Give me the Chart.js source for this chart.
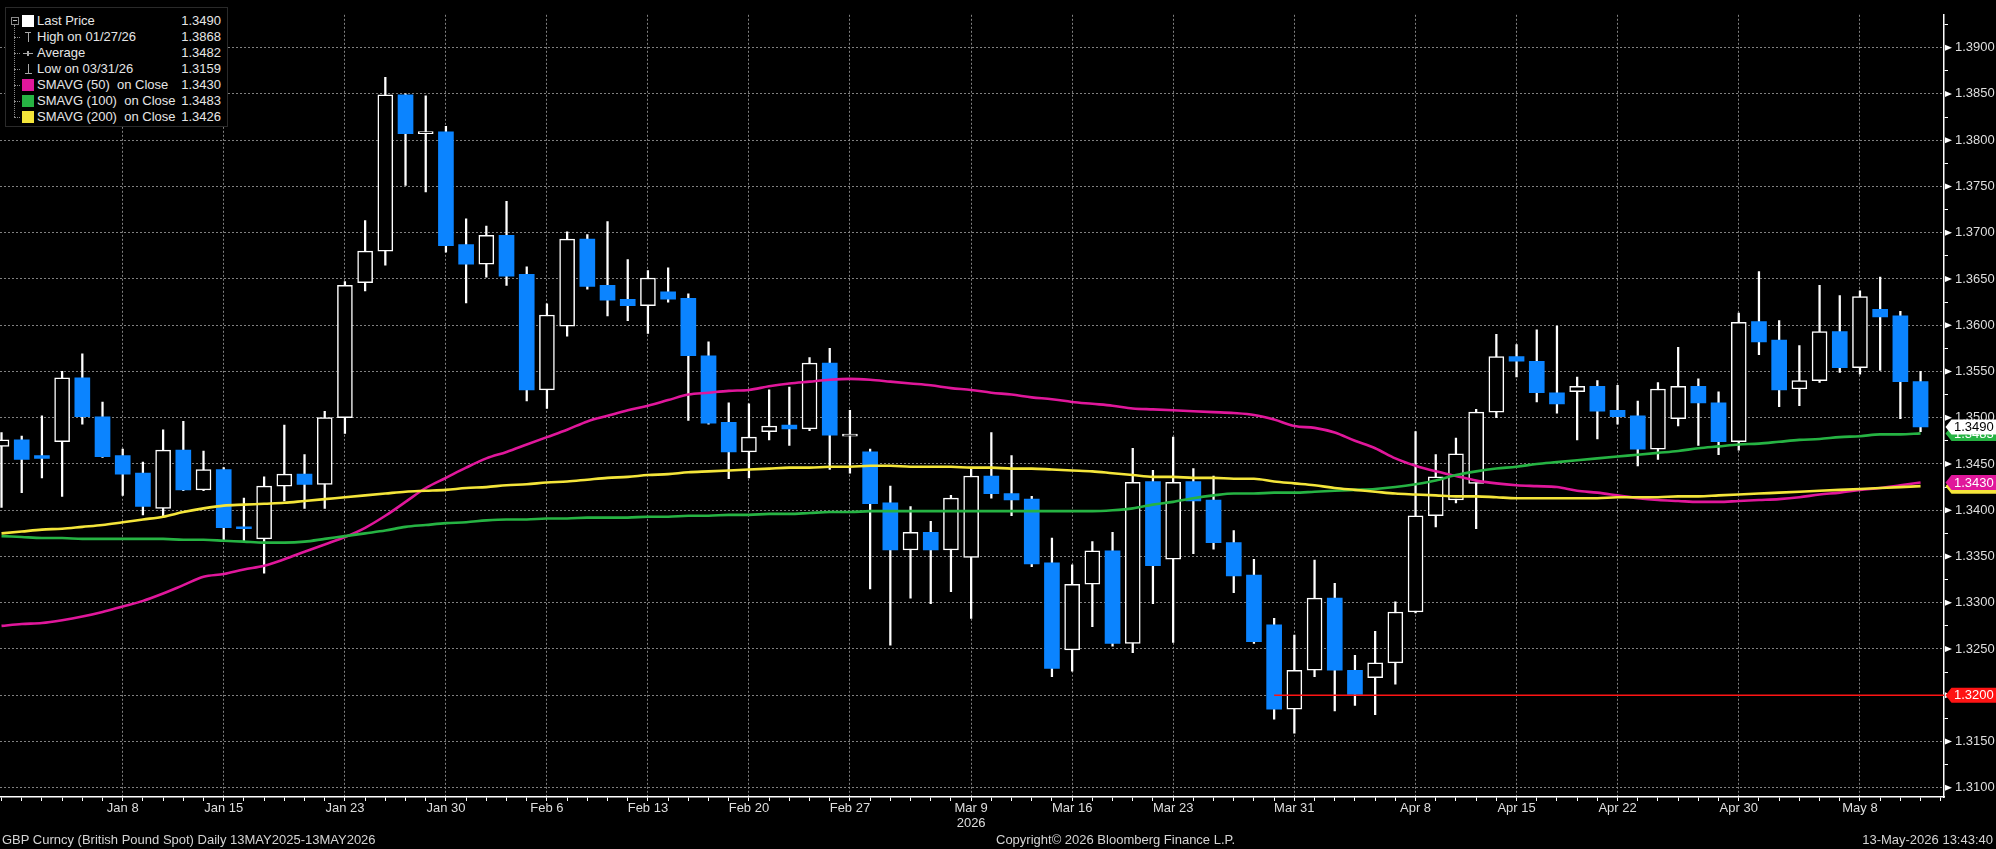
<!DOCTYPE html>
<html>
<head>
<meta charset="utf-8">
<title>GBP Curncy</title>
<script src="https://cdn.jsdelivr.net/npm/chart.js@4.4.1/dist/chart.umd.min.js"></script>
<style>
  html, body { margin: 0; padding: 0; background: #000; }
  #wrap { position: relative; width: 1996px; height: 849px; overflow: hidden; background: #000; }
  canvas { display: block; }
  #legend { position: absolute; left: 5px; top: 7px; width: 221px; height: 118px; background: #000;
            border: 1px solid #2a2a2a; font: 13px "Liberation Sans", Arial, sans-serif; color: #e6e6e6; }
  .row { position: absolute; left: 0; width: 100%; height: 16px; line-height: 16px; }
  .name { position: absolute; left: 31px; white-space: pre; }
  .val { position: absolute; right: 6px; }
  .sw { position: absolute; left: 16px; top: 2px; width: 12px; height: 12px; }
  .tree { position: absolute; left: 8px; top: 17px; height: 92px; border-left: 1px dotted #8a8a8a; }
  .branch { position: absolute; left: 8px; top: 8px; width: 6px; border-top: 1px dotted #8a8a8a; }
  .box { position: absolute; left: 5px; top: 4px; width: 6px; height: 6px; border: 1px solid #8a8a8a; }
  .box::after { content: ""; position: absolute; left: 1px; top: 2px; width: 4px; border-top: 1px solid #bbb; }
  .ic { position: absolute; background: #a8a8a8; }
  .foot { position: absolute; top: 832px; font: 13px "Liberation Sans", Arial, sans-serif; color: #d4d4d4;
          white-space: pre; line-height: 16px; }
</style>
</head>
<body>
<div id="wrap">
  <canvas id="chart" width="1996" height="849"></canvas>
  <div id="legend"><div class="tree"></div></div>
  <div class="foot" style="left:2px">GBP Curncy (British Pound Spot) Daily 13MAY2025-13MAY2026</div>
  <div class="foot" style="left:996px">Copyright© 2026 Bloomberg Finance L.P.</div>
  <div class="foot" style="right:3px">13-May-2026 13:43:40</div>
</div>
<script>
// Données (GBP spot, bougies journalières)
const dates = ['Dec 31','Jan 1','Jan 2','Jan 5','Jan 6','Jan 7','Jan 8','Jan 9','Jan 12','Jan 13','Jan 14','Jan 15','Jan 16','Jan 19','Jan 20','Jan 21','Jan 22','Jan 23','Jan 26','Jan 27','Jan 28','Jan 29','Jan 30',
  'Feb 2','Feb 3','Feb 4','Feb 5','Feb 6','Feb 9','Feb 10','Feb 11','Feb 12','Feb 13','Feb 16','Feb 17','Feb 18','Feb 19','Feb 20','Feb 23','Feb 24','Feb 25','Feb 26','Feb 27',
  'Mar 2','Mar 3','Mar 4','Mar 5','Mar 6','Mar 9','Mar 10','Mar 11','Mar 12','Mar 13','Mar 16','Mar 17','Mar 18','Mar 19','Mar 20','Mar 23','Mar 24','Mar 25','Mar 26','Mar 27','Mar 30','Mar 31',
  'Apr 1','Apr 2','Apr 3','Apr 6','Apr 7','Apr 8','Apr 9','Apr 10','Apr 13','Apr 14','Apr 15','Apr 16','Apr 17','Apr 20','Apr 21','Apr 22','Apr 23','Apr 24','Apr 27','Apr 28','Apr 29','Apr 30',
  'May 1','May 4','May 5','May 6','May 7','May 8','May 11','May 12','May 13'];

const openPx = [1.3469,1.3476,1.3459,1.3474,1.3543,1.3501,1.3459,1.3440,1.3402,1.3465,1.3422,1.3444,1.3382,1.3369,1.3426,1.3439,1.3428,1.3500,1.3646,1.3680,1.3849,1.3807,1.3809,
  1.3687,1.3666,1.3697,1.3655,1.3530,1.3599,1.3693,1.3643,1.3628,1.3621,1.3636,1.3629,1.3567,1.3495,1.3463,1.3485,1.3492,1.3488,1.3559,1.3480,
  1.3463,1.3408,1.3357,1.3376,1.3357,1.3349,1.3437,1.3418,1.3412,1.3343,1.3249,1.3320,1.3356,1.3256,1.3431,1.3347,1.3431,1.3411,1.3365,1.3330,1.3276,1.3185,
  1.3227,1.3305,1.3227,1.3219,1.3235,1.3290,1.3394,1.3411,1.3429,1.3506,1.3566,1.3561,1.3527,1.3528,1.3534,1.3508,1.3502,1.3466,1.3499,1.3534,1.3516,1.3474,
  1.3604,1.3584,1.3531,1.3540,1.3593,1.3554,1.3617,1.3610,1.3539];
const highPx = [1.3484,1.3480,1.3502,1.3550,1.3569,1.3517,1.3466,1.3452,1.3487,1.3496,1.3464,1.3446,1.3413,1.3436,1.3492,1.3460,1.3507,1.3647,1.3713,1.3868,1.3850,1.3848,1.3815,
  1.3715,1.3707,1.3734,1.3663,1.3623,1.3701,1.3698,1.3712,1.3671,1.3659,1.3662,1.3634,1.3582,1.3516,1.3515,1.3530,1.3533,1.3565,1.3575,1.3508,
  1.3466,1.3426,1.3404,1.3388,1.3416,1.3446,1.3484,1.3459,1.3415,1.3370,1.3341,1.3366,1.3376,1.3467,1.3443,1.3479,1.3445,1.3437,1.3378,1.3347,1.3283,1.3265,
  1.3346,1.3321,1.3243,1.3269,1.3301,1.3485,1.3460,1.3478,1.3509,1.3590,1.3579,1.3595,1.3599,1.3544,1.3540,1.3535,1.3518,1.3538,1.3576,1.3542,1.3528,1.3613,
  1.3658,1.3605,1.3578,1.3643,1.3632,1.3637,1.3652,1.3615,1.3550];
const lowPx = [1.3403,1.3419,1.3435,1.3415,1.3493,1.3457,1.3416,1.3395,1.3392,1.3421,1.3421,1.3368,1.3367,1.3332,1.3410,1.3402,1.3402,1.3483,1.3637,1.3665,1.3751,1.3744,1.3679,
  1.3624,1.3652,1.3643,1.3518,1.3510,1.3588,1.3639,1.3610,1.3605,1.3591,1.3625,1.3497,1.3493,1.3434,1.3435,1.3476,1.3470,1.3486,1.3444,1.3440,
  1.3315,1.3254,1.3305,1.3299,1.3312,1.3283,1.3413,1.3394,1.3339,1.3220,1.3226,1.3274,1.3253,1.3246,1.3299,1.3257,1.3353,1.3358,1.3311,1.3256,1.3174,1.3159,
  1.3220,1.3183,1.3189,1.3179,1.3212,1.3289,1.3382,1.3408,1.3380,1.3500,1.3544,1.3517,1.3505,1.3476,1.3477,1.3493,1.3448,1.3455,1.3491,1.3470,1.3460,1.3465,
  1.3568,1.3512,1.3513,1.3538,1.3549,1.3547,1.3551,1.3499,1.3485];
const closePx = [1.3476,1.3455,1.3456,1.3543,1.3501,1.3458,1.3439,1.3404,1.3465,1.3422,1.3444,1.3381,1.3380,1.3426,1.3439,1.3428,1.3500,1.3643,1.3680,1.3849,1.3807,1.3808,1.3686,
  1.3666,1.3697,1.3653,1.3530,1.3611,1.3693,1.3642,1.3627,1.3621,1.3651,1.3628,1.3567,1.3494,1.3463,1.3479,1.3491,1.3488,1.3559,1.3481,1.3481,
  1.3407,1.3357,1.3376,1.3357,1.3413,1.3437,1.3418,1.3411,1.3342,1.3229,1.3320,1.3356,1.3256,1.3430,1.3340,1.3430,1.3410,1.3365,1.3329,1.3258,1.3185,1.3227,
  1.3305,1.3227,1.3201,1.3235,1.3290,1.3394,1.3436,1.3461,1.3506,1.3566,1.3561,1.3527,1.3515,1.3534,1.3507,1.3501,1.3466,1.3531,1.3534,1.3516,1.3474,1.3603,
  1.3582,1.3530,1.3540,1.3593,1.3554,1.3631,1.3609,1.3539,1.3490];

const sma50 = [1.3275,1.3277,1.3278,1.3281,1.3285,1.3290,1.3296,1.3302,1.3310,1.3319,1.3328,1.3331,1.3336,1.3340,1.3347,1.3355,1.3363,1.3371,1.3381,1.3394,1.3409,1.3424,1.3435,
  1.3446,1.3456,1.3463,1.3471,1.3479,1.3487,1.3496,1.3502,1.3508,1.3513,1.3519,1.3525,1.3527,1.3529,1.3530,1.3534,1.3537,1.3539,1.3541,1.3542,
  1.3541,1.3539,1.3537,1.3535,1.3532,1.3530,1.3527,1.3525,1.3522,1.3520,1.3517,1.3515,1.3513,1.3510,1.3509,1.3508,1.3507,1.3506,1.3505,1.3503,1.3498,1.3491,
  1.3489,1.3484,1.3475,1.3467,1.3456,1.3448,1.3442,1.3437,1.3432,1.3429,1.3427,1.3426,1.3425,1.3421,1.3419,1.3416,1.3413,1.3411,1.3410,1.3409,1.3409,1.3410,
  1.3411,1.3412,1.3414,1.3417,1.3419,1.3422,1.3424,1.3427,1.3430];
const sma100 = [1.3372,1.3371,1.3370,1.3370,1.3369,1.3369,1.3369,1.3369,1.3369,1.3368,1.3368,1.3367,1.3366,1.3365,1.3365,1.3366,1.3369,1.3372,1.3375,1.3378,1.3382,1.3384,1.3386,
  1.3387,1.3389,1.3390,1.3390,1.3391,1.3391,1.3392,1.3392,1.3392,1.3393,1.3393,1.3394,1.3394,1.3395,1.3395,1.3396,1.3396,1.3397,1.3398,1.3398,
  1.3399,1.3399,1.3399,1.3399,1.3399,1.3399,1.3399,1.3399,1.3399,1.3399,1.3399,1.3399,1.3400,1.3402,1.3406,1.3409,1.3413,1.3416,1.3418,1.3418,1.3419,1.3419,
  1.3420,1.3421,1.3422,1.3423,1.3425,1.3428,1.3432,1.3438,1.3442,1.3445,1.3447,1.3450,1.3452,1.3454,1.3456,1.3458,1.3460,1.3462,1.3464,1.3467,1.3469,1.3471,
  1.3472,1.3474,1.3476,1.3477,1.3479,1.3480,1.3482,1.3482,1.3483];
const sma200 = [1.3375,1.3377,1.3379,1.3380,1.3382,1.3384,1.3387,1.3390,1.3393,1.3398,1.3402,1.3405,1.3406,1.3407,1.3408,1.3410,1.3412,1.3414,1.3416,1.3418,1.3420,1.3421,1.3422,
  1.3424,1.3425,1.3427,1.3428,1.3430,1.3431,1.3433,1.3435,1.3436,1.3438,1.3439,1.3441,1.3442,1.3443,1.3444,1.3445,1.3446,1.3446,1.3447,1.3447,
  1.3448,1.3448,1.3447,1.3447,1.3447,1.3446,1.3446,1.3445,1.3445,1.3444,1.3443,1.3442,1.3440,1.3438,1.3436,1.3436,1.3435,1.3435,1.3434,1.3434,1.3431,1.3429,
  1.3427,1.3424,1.3422,1.3420,1.3418,1.3417,1.3416,1.3415,1.3415,1.3414,1.3413,1.3413,1.3413,1.3413,1.3413,1.3414,1.3414,1.3414,1.3415,1.3415,1.3416,1.3417,
  1.3418,1.3419,1.3420,1.3421,1.3422,1.3423,1.3424,1.3425,1.3426];

const dateTicks = ['Jan 8','Jan 15','Jan 23','Jan 30','Feb 6','Feb 13','Feb 20','Feb 27','Mar 9','Mar 16','Mar 23','Mar 31','Apr 8','Apr 15','Apr 22','Apr 30','May 8'];
const yearTick = ['Mar 9', '2026'];
const priceTicks = [1.3100,1.3150,1.3200,1.3250,1.3300,1.3350,1.3400,1.3450,1.3500,1.3550,1.3600,1.3650,1.3700,1.3750,1.3800,1.3850,1.3900];

const supportLevel = 1.3200;
const supportFrom = 'Mar 30';

const legendNames = ['Last Price', 'High on 01/27/26', 'Average', 'Low on 03/31/26', 'SMAVG (50)  on Close', 'SMAVG (100)  on Close', 'SMAVG (200)  on Close'];
const legendValues = ['1.3490', '1.3868', '1.3482', '1.3159', '1.3430', '1.3483', '1.3426'];

// couleurs
const BLUE = '#0b84ff';
const MAGENTA = '#e0179b';
const GREEN = '#26b343';
const YELLOW = '#f4e53a';
const RED = '#ff1414';
const GRID = 'rgba(150,150,150,0.85)';
const TXT = '#dedede';
const NONE = 'rgba(0,0,0,0)';
const FONT = 'Liberation Sans';

const X_MIN = -0.075;
const X_MAX = dates.length + 0.16;
const Y_MIN = 1.3090;
const Y_MAX = 1.39355;

const idx = dates.map((d, i) => i);
const isUp = i => closePx[i] >= openPx[i];
const isMajor = v => priceTicks.some(p => Math.abs(p - v) < 1e-7);
const isDateTick = c => c.tick !== undefined && dateTicks.includes(dates[c.tick.value]);

// petites graduations tous les 0.0025
const yTickValues = [];
priceTicks.forEach((p, k) => {
    yTickValues.push(p);
    const step = k < priceTicks.length - 1 ? priceTicks[k + 1] - p : p - priceTicks[k - 1];
    if (p + step / 2 < Y_MAX) yTickValues.push(Math.round((p + step / 2) * 1e5) / 1e5);
});

// légende façon Bloomberg
function construireLegende() {
    const box = document.getElementById('legend');
    const swatches = ['#ffffff', null, null, null, MAGENTA, GREEN, YELLOW];
    legendNames.forEach((name, k) => {
        const row = document.createElement('div');
        row.className = 'row';
        row.style.top = (5 + 16 * k) + 'px';
        let html = '';
        if (k === 0) html += '<div class="box"></div>';
        else html += '<div class="branch"></div>';
        if (swatches[k]) html += `<div class="sw" style="background:${swatches[k]}"></div>`;
        if (k === 1) html += '<div class="ic" style="left:19px;top:3px;width:6px;height:1px"></div><div class="ic" style="left:22px;top:3px;width:1px;height:10px"></div>';
        if (k === 2) html += '<div class="ic" style="left:17px;top:8px;width:10px;height:1px"></div><div class="ic" style="left:21px;top:6px;width:2px;height:5px"></div>';
        if (k === 3) html += '<div class="ic" style="left:22px;top:3px;width:1px;height:10px"></div><div class="ic" style="left:19px;top:12px;width:7px;height:1px"></div>';
        html += `<span class="name">${name}</span><span class="val">${legendValues[k]}</span>`;
        row.innerHTML = html;
        box.appendChild(row);
    });
}

// étiquettes de prix à droite + triangles des graduations
const tagValues = [sma100[sma100.length - 1], closePx[closePx.length - 1], sma200[sma200.length - 1], sma50[sma50.length - 1], supportLevel];
const tagColors = [[GREEN, '#ffffff'], ['#ffffff', '#000000'], [YELLOW, '#000000'], [MAGENTA, '#ffffff'], [RED, '#ffffff']];

const decorPlugin = {
    id: 'decor',
    afterDraw(chart) {
        const { ctx, chartArea, scales } = chart;
        const right = chartArea.right;
        const W = chart.width;
        ctx.save();
        ctx.fillStyle = '#ffffff';
        priceTicks.forEach(p => {
            const py = scales.y.getPixelForValue(p);
            ctx.beginPath();
            ctx.moveTo(right + 1, py - 3);
            ctx.lineTo(right + 8, py);
            ctx.lineTo(right + 1, py + 3);
            ctx.closePath();
            ctx.fill();
        });
        tagValues.forEach((v, k) => {
            const py = scales.y.getPixelForValue(v);
            const h = 15;
            ctx.beginPath();
            ctx.moveTo(right + 1.5, py);
            ctx.lineTo(right + 7.5, py - h / 2);
            ctx.lineTo(W, py - h / 2);
            ctx.lineTo(W, py + h / 2);
            ctx.lineTo(right + 7.5, py + h / 2);
            ctx.closePath();
            ctx.fillStyle = tagColors[k][0];
            ctx.fill();
            ctx.fillStyle = tagColors[k][1];
            ctx.font = `13px "${FONT}"`;
            ctx.textAlign = 'left';
            ctx.textBaseline = 'middle';
            ctx.fillText(v.toFixed(4), right + 10, py + 0.5);
        });
        ctx.restore();
    }
};

function creerGraphique() {
    const ligne = (label, values, color, order) => ({
        type: 'line', label, order,
        data: idx.map(i => ({ x: i, y: values[i] })),
        borderColor: color, borderWidth: 2.6, pointRadius: 0,
        cubicInterpolationMode: 'monotone'
    });

    new Chart(document.getElementById('chart'), {
        type: 'bar',
        data: {
            datasets: [
                ligne('SMAVG (200)', sma200, YELLOW, 0),
                ligne('SMAVG (100)', sma100, GREEN, 1),
                ligne('SMAVG (50)', sma50, MAGENTA, 2),
                {
                    type: 'line', label: 'Support', order: 3,
                    data: [{ x: dates.indexOf(supportFrom), y: supportLevel }, { x: X_MAX, y: supportLevel }],
                    borderColor: RED, borderWidth: 1.6, pointRadius: 0
                },
                {
                    label: 'Corps', order: 4,
                    data: idx.map(i => ({ x: i, y: [openPx[i], closePx[i]] })),
                    backgroundColor: c => isUp(c.dataIndex) ? '#000000' : BLUE,
                    borderColor: c => isUp(c.dataIndex) ? '#ffffff' : BLUE,
                    borderWidth: c => isUp(c.dataIndex) ? 1.5 : 0,
                    borderSkipped: false,
                    barThickness: 15, minBarLength: 2, grouped: false
                },
                {
                    label: 'Mèches', order: 5,
                    data: idx.map(i => ({ x: i, y: [lowPx[i], highPx[i]] })),
                    backgroundColor: '#ffffff', borderWidth: 0,
                    barThickness: 1.6, grouped: false
                }
            ]
        },
        options: {
            responsive: false,
            animation: false,
            devicePixelRatio: 1,
            events: [],
            layout: { padding: 0 },
            plugins: { legend: { display: false }, tooltip: { enabled: false } },
            scales: {
                x: {
                    type: 'linear', min: X_MIN, max: X_MAX, offset: false, bounds: 'data',
                    afterBuildTicks: s => { s.ticks = idx.concat([dates.length]).map(i => ({ value: i })); },
                    afterFit: s => { s.height = 52; },
                    grid: {
                        offset: false, lineWidth: 1,
                        color: c => isDateTick(c) ? GRID : NONE,
                        tickColor: '#ffffff', tickLength: 4, tickWidth: 1, tickBorderDash: []
                    },
                    border: { display: true, color: '#ffffff', width: 1.5, dash: [2, 2] },
                    ticks: {
                        autoSkip: false, maxRotation: 0, padding: 0, color: TXT,
                        font: { family: FONT, size: 13, lineHeight: 1.15 },
                        callback: v => {
                            const d = dates[v];
                            if (d === yearTick[0]) return yearTick;
                            return dateTicks.includes(d) ? d : '';
                        }
                    }
                },
                y: {
                    type: 'linear', position: 'right', min: Y_MIN, max: Y_MAX, beginAtZero: false, bounds: 'data',
                    afterBuildTicks: s => { s.ticks = yTickValues.map(v => ({ value: v })); },
                    afterFit: s => { s.width = 52; },
                    grid: {
                        lineWidth: 1,
                        color: c => (c.tick && isMajor(c.tick.value)) ? GRID : NONE,
                        tickColor: c => (c.tick && isMajor(c.tick.value)) ? NONE : '#ffffff',
                        tickLength: 4, tickWidth: 1, tickBorderDash: []
                    },
                    border: { display: true, color: '#ffffff', width: 1.5, dash: [2, 2] },
                    ticks: {
                        autoSkip: false, padding: 7, color: TXT,
                        font: { family: FONT, size: 13 },
                        callback: v => isMajor(v) ? v.toFixed(4) : ''
                    }
                }
            }
        },
        plugins: [decorPlugin]
    });
}

construireLegende();
creerGraphique();
</script>
</body>
</html>
